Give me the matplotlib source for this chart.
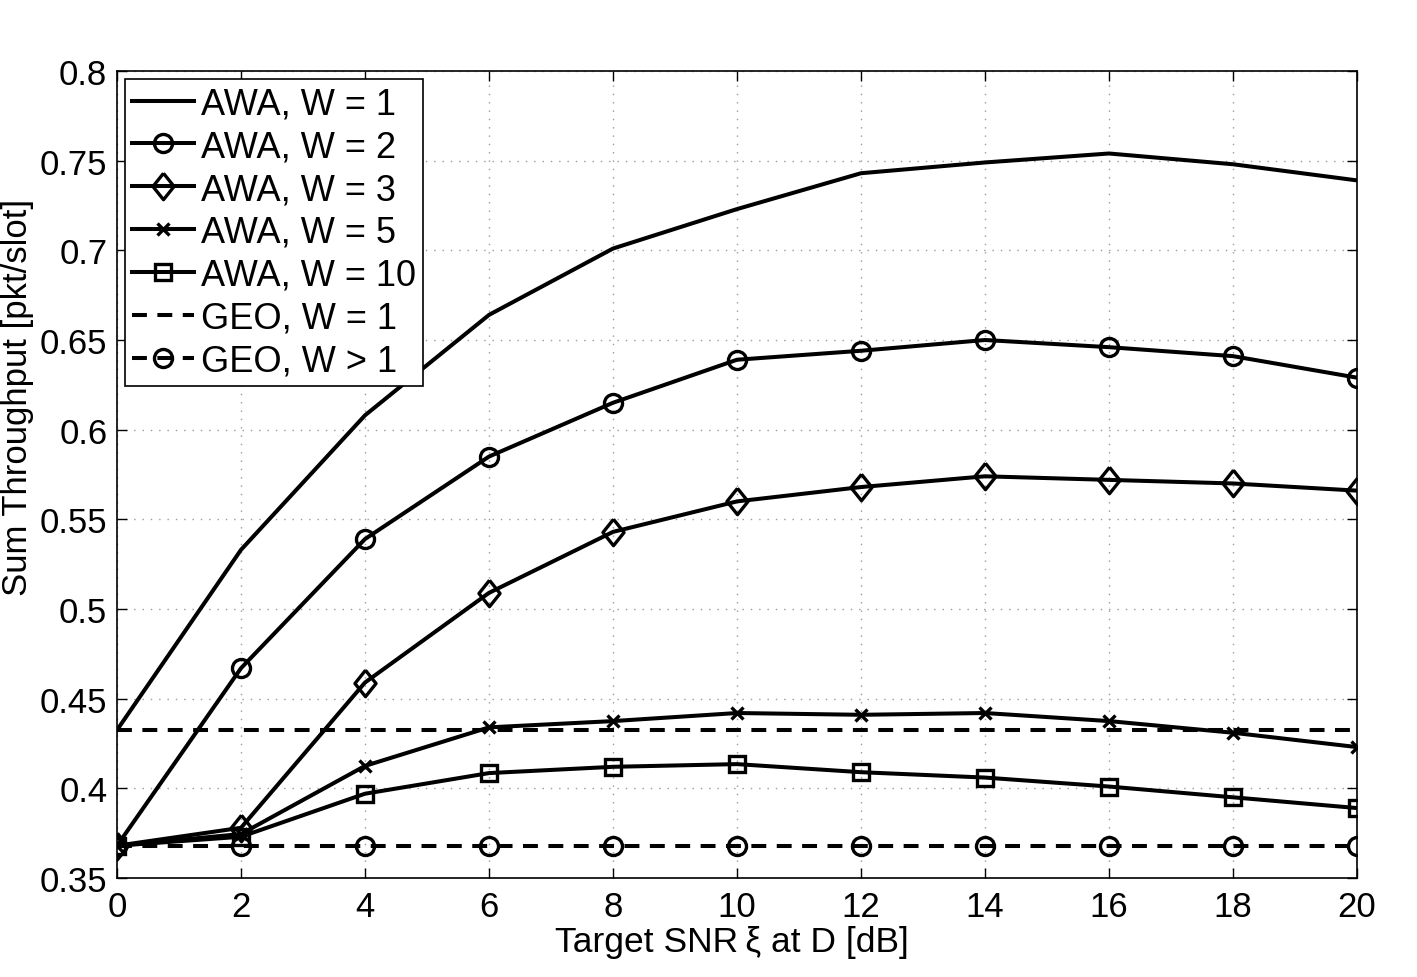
import matplotlib
matplotlib.use("Agg")
from matplotlib import pyplot as plt

plt.rcParams['font.family'] = ['Liberation Sans', 'DejaVu Sans']

# data
snr_db = [0, 2, 4, 6, 8, 10, 12, 14, 16, 18, 20]
awa_w1 = [0.4325, 0.533, 0.608, 0.664, 0.701, 0.723, 0.743, 0.749, 0.754, 0.748, 0.739]
awa_w2 = [0.368, 0.467, 0.539, 0.585, 0.615, 0.639, 0.644, 0.650, 0.646, 0.641, 0.629]
awa_w3 = [0.368, 0.378, 0.459, 0.509, 0.543, 0.560, 0.568, 0.574, 0.572, 0.570, 0.566]
awa_w5 = [0.368, 0.3745, 0.4125, 0.434, 0.4375, 0.442, 0.441, 0.442, 0.4375, 0.431, 0.423]
awa_w10 = [0.368, 0.373, 0.397, 0.4085, 0.412, 0.4135, 0.409, 0.406, 0.401, 0.395, 0.389]
geo_w1 = [0.4325] * len(snr_db)
geo_wgt1 = [0.368] * len(snr_db)

xticks = [0, 2, 4, 6, 8, 10, 12, 14, 16, 18, 20]
yticks = [0.35, 0.4, 0.45, 0.5, 0.55, 0.6, 0.65, 0.7, 0.75, 0.8]
ytick_labels = ["0.35", "0.4", "0.45", "0.5", "0.55", "0.6", "0.65", "0.7", "0.75", "0.8"]

fs = 25
lw = 2.9
mew = 2.4
diamond = [(0, 1), (0.8, 0), (0, -1), (-0.8, 0), (0, 1)]
dash = (0, (3.7, 2.6))

fig = plt.figure(figsize=(14.17, 9.78), dpi=100)
ax = fig.add_axes([117 / 1417, 1 - 879 / 978, 1240 / 1417, 807 / 978])

ax.plot(snr_db, awa_w1, color="k", lw=lw, label="AWA, W = 1")
ax.plot(snr_db, awa_w2, color="k", lw=lw, marker="o", ms=13, mfc="none", mew=mew, label="AWA, W = 2")
ax.plot(snr_db, awa_w3, color="k", lw=lw, marker=diamond, ms=19, mfc="none", mew=mew, label="AWA, W = 3")
ax.plot(snr_db, awa_w5, color="k", lw=lw, marker="x", ms=9, mew=mew, label="AWA, W = 5")
ax.plot(snr_db, awa_w10, color="k", lw=lw, marker="s", ms=11, mfc="none", mew=mew, label="AWA, W = 10")
ax.plot(snr_db, geo_w1, color="k", lw=lw, ls=dash, label="GEO, W = 1")
ax.plot(snr_db, geo_wgt1, color="k", lw=lw, ls=dash, marker="o", ms=13, mfc="none",
        mew=mew, label="GEO, W > 1")

ax.set_xlim(0, 20)
ax.set_ylim(0.35, 0.8)
ax.set_xticks(xticks)
ax.set_xticklabels([str(t) for t in xticks], fontsize=fs)
ax.set_yticks(yticks)
ax.set_yticklabels(ytick_labels, fontsize=fs)
ax.tick_params(direction="in", length=7, width=1, top=True, right=True, pad=7)
ax.tick_params(axis="x", pad=9)
for s in ax.spines.values():
    s.set_linewidth(1.2)

ax.grid(True, color="#9a9a9a", linestyle=(0, (1, 5)), linewidth=1)

ax.set_xlabel("Target SNR\u2009\u03be at D [dB]", fontsize=25.5)
ax.xaxis.set_label_coords(0.496, -0.058)
ax.set_ylabel("Sum Throughput [pkt/slot]", fontsize=25)
ax.yaxis.set_label_coords(-0.067, 0.597)

leg = ax.legend(loc="upper left", fontsize=26, frameon=True, fancybox=False, framealpha=1,
                edgecolor="k", borderaxespad=0.22, handlelength=1.7, handletextpad=0.2,
                labelspacing=0.22, borderpad=0.2)
leg.get_frame().set_linewidth(1.2)

fig.savefig("out.png", dpi=100)
